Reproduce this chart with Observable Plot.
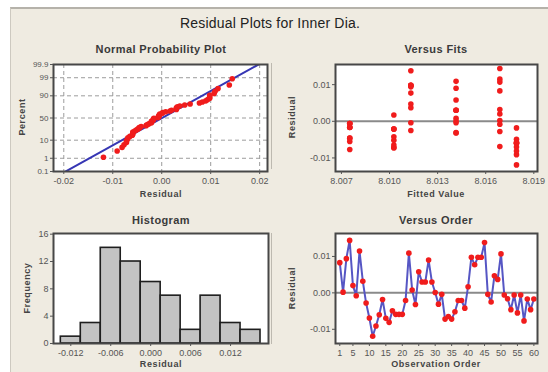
<!DOCTYPE html>
<html><head><meta charset="utf-8">
<script src="https://cdn.jsdelivr.net/npm/d3@7"></script>
<script src="https://cdn.jsdelivr.net/npm/@observablehq/plot@0.6"></script>
<style>
body{margin:0;background:#fff;}
#wrap{position:relative;width:548px;height:372px;overflow:hidden;font-family:"Liberation Sans",Arial,sans-serif;}
#panel{position:absolute;left:10px;top:7px;width:538px;height:365px;background:#efebe1;border-top:2px solid #b5b2aa;border-left:1px solid #cdc9c0;box-sizing:border-box;}
.t{position:absolute;white-space:nowrap;transform:translate(-50%,-50%);color:#333;}
.main{font-size:14px;color:#222;letter-spacing:0.2px;}
.sub{font-size:11px;font-weight:bold;letter-spacing:0.4px;color:#3a3a3a;}
.ax{font-size:9px;font-weight:bold;color:#444;letter-spacing:0.6px;}
.rot{transform:translate(-50%,-50%) rotate(-90deg);}
.plot{position:absolute;}
.sep{position:absolute;width:1px;background:#bdb9b0;}
</style></head>
<body>
<div id="wrap">
  <div id="panel"></div>
  <div class="sep" style="left:271px;top:63px;height:106px"></div>
  <div class="sep" style="left:271px;top:233px;height:111px"></div>
  <div class="t main" style="left:270px;top:23px">Residual Plots for Inner Dia.</div>
  <div class="t sub" style="left:161px;top:49px">Normal Probability Plot</div>
  <div class="t sub" style="left:436px;top:49px">Versus Fits</div>
  <div class="t sub" style="left:161px;top:220px">Histogram</div>
  <div class="t sub" style="left:436px;top:220px">Versus Order</div>
  <div id="p1" class="plot" style="left:0px;top:56px"></div>
  <div id="p2" class="plot" style="left:280px;top:56px"></div>
  <div id="p3" class="plot" style="left:0px;top:225px"></div>
  <div id="p4" class="plot" style="left:280px;top:225px"></div>
  <div class="t ax" style="left:161px;top:194px">Residual</div>
  <div class="t ax" style="left:436px;top:194px">Fitted Value</div>
  <div class="t ax" style="left:161px;top:364px">Residual</div>
  <div class="t ax" style="left:436px;top:364px">Observation Order</div>
  <div class="t ax rot" style="left:22px;top:117px">Percent</div>
  <div class="t ax rot" style="left:292px;top:117px">Residual</div>
  <div class="t ax rot" style="left:27px;top:288px">Frequency</div>
  <div class="t ax rot" style="left:292px;top:288px">Residual</div>
</div>
<script>
// ---- data ----
const residuals = [
  0.0083, 0.0002, 0.0094, 0.0144, 0.0020, -0.0008, 0.0115, 0.0032, -0.0028, -0.0069,
  -0.0119, -0.0091, -0.0060, -0.0018, -0.0070, -0.0081, -0.0049, -0.0059, -0.0059, -0.0059,
  -0.0021, 0.0109, 0.0008, -0.0032, 0.0058, 0.0030, 0.0030, 0.0090, 0.0030, 0.0001,
  -0.0031, -0.0004, -0.0072, -0.0065, -0.0072, -0.0052, -0.0021, -0.0021, -0.0042, 0.0017,
  0.0098, 0.0077, 0.0098, 0.0098, 0.0138, -0.0004, -0.0025, 0.0047, 0.0037, 0.0107,
  -0.0006, -0.0016, -0.0046, -0.0006, -0.0055, -0.0006, -0.0077, -0.0017, -0.0046, -0.0017
];
const fittedValues = [
  8.01688, 8.01688, 8.01133, 8.01688, 8.01688, 8.01688, 8.01688, 8.01688, 8.01688, 8.01688,
  8.01792, 8.01792, 8.01792, 8.01792, 8.01792, 8.01792, 8.01792, 8.01792, 8.01792, 8.01792,
  8.01027, 8.01415, 8.01415, 8.01415, 8.01415, 8.01415, 8.01415, 8.01415, 8.01415, 8.01415,
  8.01415, 8.01415, 8.01027, 8.01027, 8.01027, 8.01027, 8.01027, 8.01027, 8.01027, 8.01027,
  8.01133, 8.01133, 8.01133, 8.01133, 8.01133, 8.01133, 8.01133, 8.01133, 8.01133, 8.01688,
  8.00752, 8.00752, 8.00752, 8.00752, 8.00752, 8.00752, 8.00752, 8.00752, 8.00752, 8.00752
];
const observations = d3.range(1, 61);
const histBinEdges = [-0.0135, -0.0105, -0.0075, -0.0045, -0.0015, 0.0015, 0.0045, 0.0075, 0.0105, 0.0135, 0.0165];
const histCounts = [1, 3, 14, 12, 9, 7, 2, 7, 3, 2];
const percentTicks = [0.1, 1, 10, 50, 90, 99, 99.9];
const percentLabels = ["0.1", "1", "10", "50", "90", "99", "99.9"];
const npXTicks = [-0.02, -0.01, 0, 0.01, 0.02];
const fitXTicks = [8.007, 8.010, 8.013, 8.016, 8.019];
const residTicks = [-0.01, 0, 0.01];
const histXTicks = [-0.012, -0.006, 0, 0.006, 0.012];
const histYTicks = [0, 4, 8, 12, 16];
const orderTicks = [1, 5, 10, 15, 20, 25, 30, 35, 40, 45, 50, 55, 60];

// ---- helpers ----
function probit(p) {
  const a = [-3.969683028665376e+01, 2.209460984245205e+02, -2.759285104469687e+02, 1.383577518672690e+02, -3.066479806614716e+01, 2.506628277459239e+00];
  const b = [-5.447609879822406e+01, 1.615858368580409e+02, -1.556989798598866e+02, 6.680131188771972e+01, -1.328068155288572e+01];
  const c = [-7.784894002430293e-03, -3.223964580411365e-01, -2.400758277161838e+00, -2.549671010115755e+00, 4.374664141464968e+00, 2.938163982698783e+00];
  const d = [7.784695709041462e-03, 3.224671290700398e-01, 2.445134137142996e+00, 3.754408661907416e+00];
  const pl = 0.02425;
  let q, r;
  if (p < pl) { q = Math.sqrt(-2 * Math.log(p)); return (((((c[0]*q+c[1])*q+c[2])*q+c[3])*q+c[4])*q+c[5]) / ((((d[0]*q+d[1])*q+d[2])*q+d[3])*q+1); }
  if (p > 1 - pl) { q = Math.sqrt(-2 * Math.log(1 - p)); return -(((((c[0]*q+c[1])*q+c[2])*q+c[3])*q+c[4])*q+c[5]) / ((((d[0]*q+d[1])*q+d[2])*q+d[3])*q+1); }
  q = p - 0.5; r = q * q;
  return (((((a[0]*r+a[1])*r+a[2])*r+a[3])*r+a[4])*r+a[5])*q / (((((b[0]*r+b[1])*r+b[2])*r+b[3])*r+b[4])*r+1);
}
const hy = s => s.replace("\u2212", "-");
const f2 = d => hy(d3.format(".2f")(d));
const f3 = d => hy(d3.format(".3f")(d));

const FONT = '"Liberation Sans", Arial, sans-serif';
const baseStyle = {background: "transparent", fontFamily: FONT, fontSize: "9px", color: "#555", overflow: "visible"};
const RED = "#f01c1c";
const DOT_R = 2.8;
const FRAME = {stroke: "#474747", strokeWidth: 2};

// ---- normal probability plot ----
const n = residuals.length;
const sorted = residuals.slice().sort(d3.ascending);
const npData = sorted.map((r, i) => ({r, z: probit((i + 1 - 0.3) / (n + 0.4))}));
const mu = d3.mean(residuals), sd = d3.deviation(residuals);
const fitLine = [-3.4, 3.4].map(z => ({x: mu + sd * z, z}));
const zTicks = percentTicks.map(p => probit(p / 100));
const zLabel = new Map(zTicks.map((z, i) => [z, percentLabels[i]]));

document.getElementById("p1").append(Plot.plot({
  width: 275, height: 150, marginLeft: 53, marginRight: 8, marginTop: 8, marginBottom: 35,
  style: baseStyle,
  x: {domain: [-0.0221, 0.0216]},
  y: {domain: [zTicks[0], zTicks[zTicks.length - 1]]},
  marks: [
    Plot.frame({fill: "white"}),
    Plot.gridX(npXTicks, {stroke: "#9c9c9c", strokeOpacity: 1, strokeDasharray: "4,3"}),
    Plot.gridY(zTicks, {stroke: "#9c9c9c", strokeOpacity: 1, strokeDasharray: "4,3"}),
    Plot.line(fitLine, {x: "x", y: "z", stroke: "#3636b4", strokeWidth: 2, clip: true}),
    Plot.dot(npData, {x: "r", y: "z", r: DOT_R, fill: RED}),
    Plot.frame(FRAME),
    Plot.axisX(npXTicks, {tickFormat: f2, tickSize: 3, tickPadding: 3, label: null, fill: "#555"}),
    Plot.axisY(zTicks, {tickFormat: d => zLabel.get(d), tickSize: 3, tickPadding: 2, label: null, fill: "#555", fontSize: 8})
  ]
}));

// ---- versus fits ----
const rows = observations.map((o, i) => ({obs: o, residual: residuals[i], fit: fittedValues[i]}));
document.getElementById("p2").append(Plot.plot({
  width: 268, height: 150, marginLeft: 55, marginRight: 11, marginTop: 8, marginBottom: 35,
  style: baseStyle,
  x: {domain: [8.00663, 8.01923]},
  y: {domain: [-0.0137, 0.0155]},
  marks: [
    Plot.frame({fill: "white"}),
    Plot.ruleY([0], {stroke: "#8a8a8a", strokeWidth: 2}),
    Plot.dot(rows, {x: "fit", y: "residual", r: DOT_R, fill: RED}),
    Plot.frame(FRAME),
    Plot.axisX(fitXTicks, {tickFormat: f3, tickSize: 3, tickPadding: 3, label: null, fill: "#555"}),
    Plot.axisY(residTicks, {tickFormat: f2, tickSize: 3, tickPadding: 2, label: null, fill: "#555"})
  ]
}));

// ---- histogram ----
const bins = histCounts.map((c, i) => ({x1: histBinEdges[i], x2: histBinEdges[i + 1], count: c}));
document.getElementById("p3").append(Plot.plot({
  width: 275, height: 140, marginLeft: 53, marginRight: 7, marginTop: 8, marginBottom: 22,
  style: baseStyle,
  x: {domain: [-0.0146, 0.0177]},
  y: {domain: [0, 16.1]},
  marks: [
    Plot.frame({fill: "white"}),
    Plot.rectY(bins, {x1: "x1", x2: "x2", y: "count", fill: "#c3c3c3", stroke: "#1e1e1e", strokeWidth: 1.6}),
    Plot.frame(FRAME),
    Plot.axisX(histXTicks, {tickFormat: f3, tickSize: 3, tickPadding: 3, label: null, fill: "#555"}),
    Plot.axisY(histYTicks, {tickFormat: d => String(d), tickSize: 3, tickPadding: 2, label: null, fill: "#555"})
  ]
}));

// ---- versus order ----
document.getElementById("p4").append(Plot.plot({
  width: 268, height: 140, marginLeft: 55, marginRight: 11, marginTop: 8, marginBottom: 22,
  style: baseStyle,
  x: {domain: [-0.3, 61.1]},
  y: {domain: [-0.0139, 0.0163]},
  marks: [
    Plot.frame({fill: "white"}),
    Plot.ruleY([0], {stroke: "#8a8a8a", strokeWidth: 2}),
    Plot.line(rows, {x: "obs", y: "residual", stroke: "#5656c4", strokeWidth: 2}),
    Plot.dot(rows, {x: "obs", y: "residual", r: DOT_R, fill: RED}),
    Plot.frame(FRAME),
    Plot.axisX(orderTicks, {tickFormat: d => String(d), tickSize: 3, tickPadding: 3, label: null, fill: "#555"}),
    Plot.axisY(residTicks, {tickFormat: f2, tickSize: 3, tickPadding: 2, label: null, fill: "#555"})
  ]
}));
</script>
</body></html>
